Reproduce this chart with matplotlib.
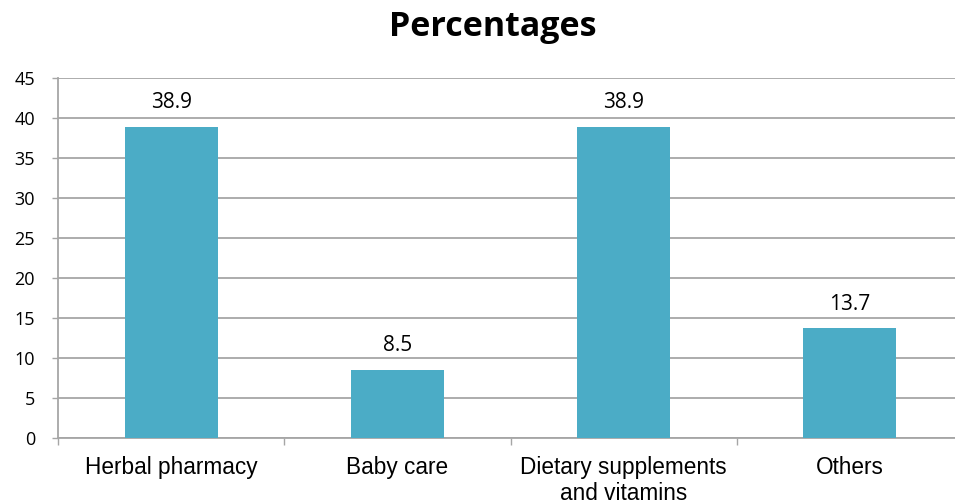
import matplotlib
matplotlib.use("Agg")
import matplotlib.pyplot as plt

categories = ["Herbal pharmacy", "Baby care", "Dietary supplements\nand vitamins", "Others"]
values = [38.9, 8.5, 38.9, 13.7]
y_ticks = [0, 5, 10, 15, 20, 25, 30, 35, 40, 45]

W, H = 955, 504
fig = plt.figure(figsize=(W / 100, H / 100), dpi=100)
# plot area: left edge at x=58px, runs past the right border; y from 78px to 438px
ax = fig.add_axes([58 / W, 1 - 438 / H, 905 / W, 360 / H])

grid_color = "#A6A6A6"
bar_color = "#4BACC6"

x = list(range(len(categories)))
ax.bar(x, values, width=0.41, color=bar_color, zorder=3)
ax.set_xlim(-0.5, len(categories) - 0.5)
ax.set_ylim(0, 45)

ax.set_yticks(y_ticks)
ax.yaxis.grid(True, color=grid_color, linewidth=1.3, zorder=0)
ax.set_axisbelow(True)

# category labels at bar centres, tick marks at category boundaries
ax.set_xticks(x)
ax.set_xticklabels(categories, fontsize=16.3, family="Liberation Sans", linespacing=1.17)
ax.tick_params(axis="x", length=0, pad=13)
ax.set_xticks([i - 0.5 for i in range(len(categories) + 1)], minor=True)
ax.tick_params(axis="x", which="minor", length=5, width=1, color=grid_color, direction="out")

ax.tick_params(axis="y", length=4.5, width=1, color=grid_color, labelsize=13, pad=12)
for lbl in ax.get_yticklabels():
    lbl.set_family("Open Sans")

for side in ["top", "right"]:
    ax.spines[side].set_visible(False)
for side in ["left", "bottom"]:
    ax.spines[side].set_color(grid_color)
    ax.spines[side].set_linewidth(1.3)

for xi, v in zip(x, values):
    ax.annotate(f"{v}", (xi, v), xytext=(0, 10), textcoords="offset points",
                ha="center", va="bottom", fontsize=15, family="Open Sans")

fig.text(493 / W, 1 - 27 / H, "Percentages", ha="center", va="center",
         fontsize=24.5, fontweight="bold", family="Open Sans")

fig.savefig("out.png", dpi=100)
